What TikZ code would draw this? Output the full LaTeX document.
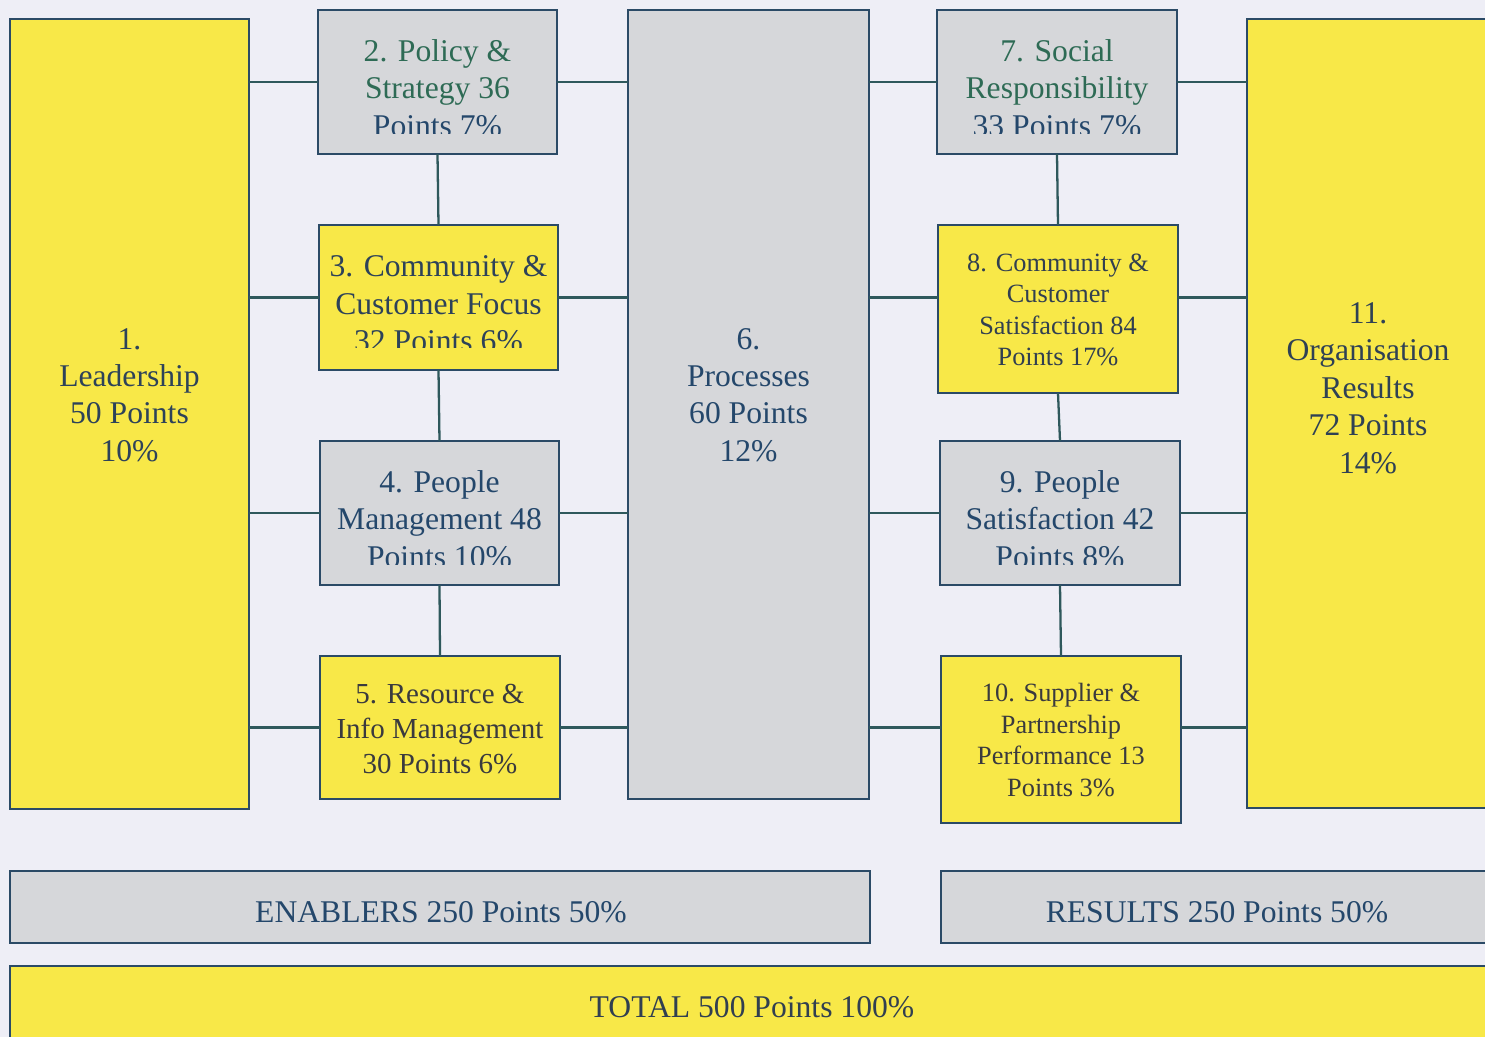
\documentclass[tikz,border=0pt]{standalone}
\usepackage{fontspec}
\setmainfont{Liberation Serif}
\definecolor{bg}{RGB}{238,238,246}
\definecolor{grayf}{RGB}{214,215,218}
\definecolor{yel}{RGB}{248,232,72}
\definecolor{bord}{RGB}{43,74,102}
\definecolor{conn}{RGB}{46,88,92}
\definecolor{gtxt}{RGB}{36,71,107}
\definecolor{greentxt}{RGB}{46,107,85}
\definecolor{ytxt}{RGB}{58,58,62}
\begin{document}
\begin{tikzpicture}[x=0.02cm,y=-0.02cm,
  box/.style={draw=bord,line width=1.3pt,inner sep=0pt,outer sep=0pt},
  gbox/.style={box,fill=grayf},
  ybox/.style={box,fill=yel},
  big/.style={font=\fontsize{18}{21.3}\selectfont,align=center,inner sep=0pt},
  small/.style={font=\fontsize{15}{17.9}\selectfont,align=center,inner sep=0pt},
  mid/.style={font=\fontsize{16.5}{19.9}\selectfont,align=center,inner sep=0pt},
  conline/.style={draw=conn,line width=1.3pt}]
\fill[bg] (0,0) rectangle (1485,1037);
\useasboundingbox (0,0) rectangle (1485,1037);

% boxes
\node[ybox,minimum width=239*0.02cm,minimum height=790*0.02cm] (b1) at (129.5,414) {};
\node[gbox,minimum width=239*0.02cm,minimum height=144*0.02cm] (b2) at (437.5,82) {};
\node[ybox,minimum width=239*0.02cm,minimum height=145*0.02cm] (b3) at (438.5,297.5) {};
\node[gbox,minimum width=239*0.02cm,minimum height=144*0.02cm] (b4) at (439.5,513) {};
\node[ybox,minimum width=240*0.02cm,minimum height=143*0.02cm] (b5) at (440,727.5) {};
\node[gbox,minimum width=241*0.02cm,minimum height=789*0.02cm] (b6) at (748.5,404.5) {};
\node[gbox,minimum width=240*0.02cm,minimum height=144*0.02cm] (b7) at (1057,82) {};
\node[ybox,minimum width=240*0.02cm,minimum height=168*0.02cm] (b8) at (1058,309) {};
\node[gbox,minimum width=240*0.02cm,minimum height=144*0.02cm] (b9) at (1060,513) {};
\node[ybox,minimum width=240*0.02cm,minimum height=167*0.02cm] (b10) at (1061,739.5) {};
\node[ybox,minimum width=248*0.02cm,minimum height=789*0.02cm] (b11) at (1371,413.5) {};
\node[gbox,minimum width=860*0.02cm,minimum height=72*0.02cm] (en) at (440,907) {};
\node[gbox,minimum width=554*0.02cm,minimum height=72*0.02cm] (re) at (1218,907) {};
\node[ybox,minimum width=1485*0.02cm,minimum height=84*0.02cm] (tot) at (752.5,1008) {};

% connectors
\draw[conline] (b1.east |- b2.west) -- (b2.west);
\draw[conline] (b2.east) -- (b6.west |- b2.east);
\draw[conline] (b6.east |- b7.west) -- (b7.west);
\draw[conline] (b7.east) -- (b11.west |- b7.east);
\draw[conline] (b1.east |- b3.west) -- (b3.west);
\draw[conline] (b3.east) -- (b6.west |- b3.east);
\draw[conline] (b6.east |- b3.east) -- (b8.west |- b3.east);
\draw[conline] (b8.east |- b3.east) -- (b11.west |- b3.east);
\draw[conline] (b1.east |- b4.west) -- (b4.west);
\draw[conline] (b4.east) -- (b6.west |- b4.east);
\draw[conline] (b6.east |- b9.west) -- (b9.west);
\draw[conline] (b9.east) -- (b11.west |- b9.east);
\draw[conline] (b1.east |- b5.west) -- (b5.west);
\draw[conline] (b5.east) -- (b6.west |- b5.east);
\draw[conline] (b6.east |- b5.east) -- (b10.west |- b5.east);
\draw[conline] (b10.east |- b5.east) -- (b11.west |- b5.east);
\draw[conline] (b2.south) -- (b3.north);
\draw[conline] (b3.south) -- (b4.north);
\draw[conline] (b4.south) -- (b5.north);
\draw[conline] (b7.south) -- (b8.north);
\draw[conline] (b8.south) -- (b9.north);
\draw[conline] (b9.south) -- (b10.north);

% texts
\node[big,text=ytxt!40!gtxt] (t1) at (129.5,395) {1.\\Leadership\\50 Points\\10\%};
\begin{scope}
\clip (b2.north west) rectangle ([yshift=0.42cm]b2.south east);
\node[big,text=greentxt] (t2) at (437.5,88) {2. Policy \&\\Strategy 36\\\textcolor{gtxt}{Points 7\%}};
\end{scope}
\begin{scope}
\clip (b3.north west) rectangle ([yshift=0.46cm]b3.south east);
\node[big,text=ytxt!40!gtxt] (t3) at (438.5,304) {3. Community \&\\Customer Focus\\32 Points 6\%};
\end{scope}
\begin{scope}
\clip (b4.north west) rectangle ([yshift=0.42cm]b4.south east);
\node[big,text=gtxt] (t4) at (439.5,519) {4. People\\Management 48\\Points 10\%};
\end{scope}
\node[mid,text=ytxt] (t5) at (440,729) {5. Resource \&\\Info Management\\30 Points 6\%};
\node[big,text=gtxt] (t6) at (748.5,395) {6.\\Processes\\60 Points\\12\%};
\begin{scope}
\clip (b7.north west) rectangle ([yshift=0.42cm]b7.south east);
\node[big,text=greentxt] (t7) at (1057,88) {7. Social\\Responsibility\\\textcolor{gtxt}{33 Points 7\%}};
\end{scope}
\node[small,text=ytxt!60!gtxt] (t8) at (1058,310) {8. Community \&\\Customer\\Satisfaction 84\\Points 17\%};
\begin{scope}
\clip (b9.north west) rectangle ([yshift=0.42cm]b9.south east);
\node[big,text=gtxt] (t9) at (1060,519) {9. People\\Satisfaction 42\\Points 8\%};
\end{scope}
\node[small,text=ytxt] (t10) at (1061,740) {10. Supplier \&\\Partnership\\Performance 13\\Points 3\%};
\node[big,text=ytxt!50!gtxt] (t11) at (1368,388) {11.\\Organisation\\Results\\72 Points\\14\%};
\node[big,text=gtxt] (ten) at (441,912) {ENABLERS 250 Points 50\%};
\node[big,text=gtxt] (tre) at (1217,912) {RESULTS 250 Points 50\%};
\node[big,text=ytxt!60!gtxt] (ttot) at (752,1007) {TOTAL 500 Points 100\%};
\end{tikzpicture}
\end{document}
